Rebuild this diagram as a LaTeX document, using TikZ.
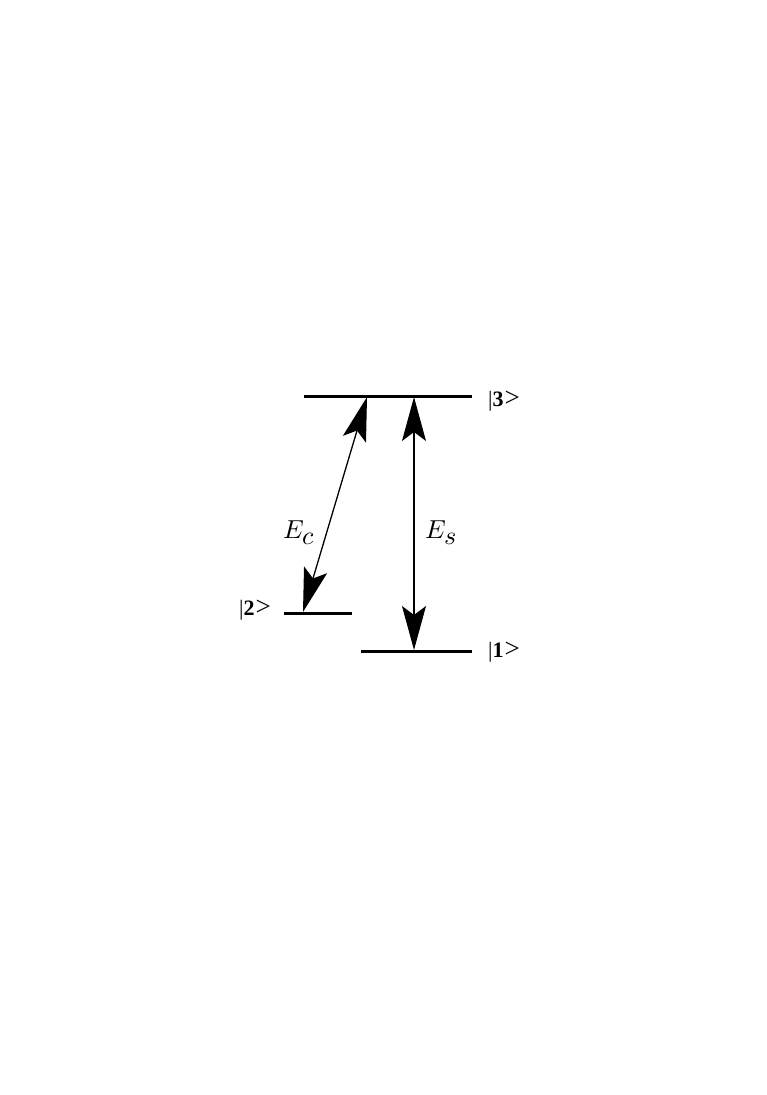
\documentclass[tikz,border=0pt]{standalone}
\usepackage{fontspec}
\setmainfont{Liberation Serif}
\usepackage{unicode-math}
\setmathfont{Latin Modern Math}
\usetikzlibrary{arrows.meta}
\newcommand{\ketlab}[1]{|\textbf{#1}\kern1pt{\fontsize{27}{27}\selectfont >}}
\begin{document}
\begin{tikzpicture}[x=1pt,y=-1pt,
  level/.style={line width=3pt},
  trans/.style={line width=1.3pt,{Stealth[length=44pt,width=24pt,inset=9pt]}-{Stealth[length=44pt,width=24pt,inset=9pt]}},
  ket/.style={font=\fontsize{22}{22}\selectfont, inner sep=0pt},
  elab/.style={font=\fontsize{26}{26}\selectfont, inner sep=0pt}]
\useasboundingbox (0,0) rectangle (766,1095);
\fill[white] (0,0) rectangle (766,1095);
% levels
\coordinate (l3a) at (304,396); \coordinate (l3b) at (472,396);
\coordinate (l2a) at (284,613); \coordinate (l2b) at (352,613);
\coordinate (l1a) at (361,651); \coordinate (l1b) at (472,651);
\draw[level] (l3a) -- (l3b);
\draw[level] (l2a) -- (l2b);
\draw[level] (l1a) -- (l1b);
% transitions
\coordinate (c3) at (367,397); \coordinate (c2) at (303,612);
\coordinate (s3) at (414,397); \coordinate (s1) at (414,650);
\draw[trans] (c2) -- (c3);
\draw[trans] (s1) -- (s3);
% labels
\node[ket, anchor=west] (k3) at (488,401) {\ketlab{3}};
\node[ket, anchor=west] (k2) at (239,610) {\ketlab{2}};
\node[ket, anchor=west] (k1) at (488,652) {\ketlab{1}};
\node[elab] (ec) at (299,533) {$E_{\textstyle c}$};
\node[elab] (es) at (441,533) {$E_{\textstyle s}$};
\end{tikzpicture}
\end{document}
